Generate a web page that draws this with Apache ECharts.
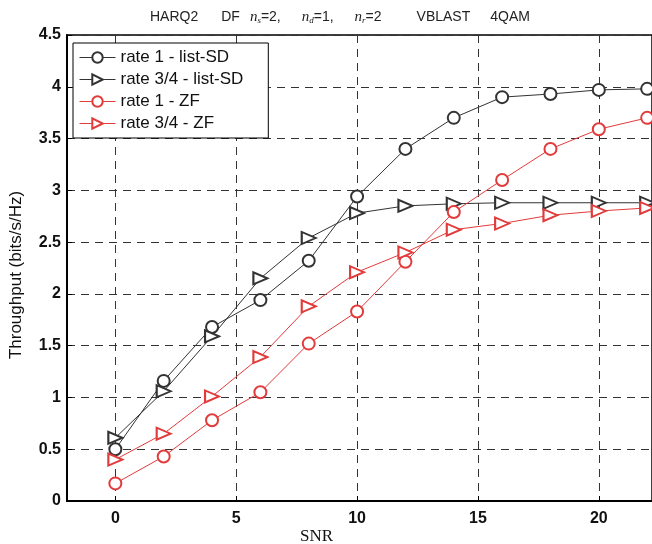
<!DOCTYPE html>
<html>
<head>
<meta charset="utf-8">
<script src="https://cdn.jsdelivr.net/npm/echarts@6/dist/echarts.min.js"></script>
<style>
  html, body { margin: 0; padding: 0; background: #fff; }
  #chart { width: 652px; height: 544px; }
</style>
</head>
<body>
<div id="chart"></div>
<script>
// SNR points shared by every curve
const snr = [0, 2, 4, 6, 8, 10, 12, 14, 16, 18, 20, 22];

// throughput
const rate1ListSD = [0.50, 1.16, 1.68, 1.94, 2.32, 2.94, 3.40, 3.70, 3.90, 3.93, 3.97, 3.98];
const rate34ListSD = [0.61, 1.06, 1.59, 2.15, 2.54, 2.78, 2.85, 2.87, 2.88, 2.88, 2.88, 2.88];
const rate1ZF = [0.17, 0.43, 0.78, 1.05, 1.52, 1.83, 2.31, 2.79, 3.10, 3.40, 3.59, 3.70];
const rate34ZF = [0.40, 0.65, 1.01, 1.39, 1.88, 2.21, 2.40, 2.62, 2.68, 2.76, 2.80, 2.83];

const xTicks = [0, 5, 10, 15, 20];

const BLACK = '#333';
const RED = '#e23b3b';
const SANS = 'Liberation Sans, Arial';

const chart = echarts.init(document.getElementById('chart'));

function pairs(vals) {
    return snr.map((x, i) => [x, vals[i]]);
}

function makeSeries(name, vals, color, symbol) {
    const tri = symbol === 'emptyTriangle';
    return {
        name: name,
        type: 'line',
        data: pairs(vals),
        symbol: symbol,
        symbolSize: tri ? [12, 14] : 12,
        symbolRotate: tri ? -90 : 0,
        showAllSymbol: true,
        lineStyle: { color: color, width: 1 },
        itemStyle: { color: color, borderColor: color, borderWidth: 1 },
        emphasis: { disabled: true },
        z: 3
    };
}

const tStyle = { fontFamily: SANS, fontSize: 14, fontWeight: 'normal', color: '#222', lineHeight: 16 };
const nStyle = { fontFamily: 'Liberation Serif', fontStyle: 'italic', fontWeight: 'normal', fontSize: 15, color: '#222', lineHeight: 16 };

const option = {
    backgroundColor: '#fff',
    animation: false,
    title: {
        text: '{t|HARQ2}{dF|DF}{n1|n}{s|s}{t|=2,}{n2|n}{s|d}{t|=1,}{n2|n}{s|r}{t|=2}{vb|VBLAST}{qa|4QAM}',
        left: 150,
        top: 9,
        padding: 0,
        textStyle: {
            fontWeight: 'normal',
            rich: {
                t: tStyle,
                dF: Object.assign({}, tStyle, { padding: [0, 0, 0, 23] }),
                vb: Object.assign({}, tStyle, { padding: [0, 0, 0, 35] }),
                qa: Object.assign({}, tStyle, { padding: [0, 0, 0, 20] }),
                n1: Object.assign({}, nStyle, { padding: [0, 0, 0, 10] }),
                n2: Object.assign({}, nStyle, { padding: [0, 0, 0, 21] }),
                s: { fontFamily: 'Liberation Serif', fontStyle: 'italic', fontWeight: 'normal', fontSize: 9, color: '#222', verticalAlign: 'bottom', lineHeight: 10, padding: [8, 0, 0, 0] }
            }
        }
    },
    legend: {
        orient: 'vertical',
        left: 73,
        top: 43,
        backgroundColor: '#fff',
        borderColor: '#000',
        borderWidth: 1,
        borderRadius: 0,
        padding: [6, 25, 6, 6],
        itemWidth: 36,
        itemHeight: 13,
        itemGap: 5,
        lineStyle: { width: 1 },
        textStyle: { fontFamily: SANS, fontSize: 17, color: '#111' },
        data: ['rate 1 - list-SD', 'rate 3/4 - list-SD', 'rate 1 - ZF', 'rate 3/4 - ZF']
    },
    grid: {
        left: 66,
        right: -2,
        top: 35,
        bottom: 43,
        show: true,
        borderColor: '#000',
        borderWidth: 1.5
    },
    xAxis: {
        type: 'value',
        min: -2,
        max: 22.2,
        axisLine: { onZero: false, lineStyle: { color: '#000', width: 2 } },
        axisTick: { inside: true, length: 5, customValues: xTicks, lineStyle: { color: '#000' } },
        axisLabel: {
            customValues: xTicks,
            margin: 10,
            fontFamily: SANS,
            fontSize: 16,
            fontWeight: 'bold',
            color: '#111'
        },
        splitLine: {
            show: true,
            lineStyle: { color: '#333', type: [8, 6], width: 1 }
        }
    },
    yAxis: {
        type: 'value',
        min: 0,
        max: 4.5,
        interval: 0.5,
        name: 'Throughput (bits/s/Hz)',
        nameLocation: 'middle',
        nameGap: 42,
        nameTextStyle: { fontFamily: SANS, fontSize: 17, color: '#111', padding: [0, 0, 0, -14] },
        axisLine: { show: true, onZero: false, lineStyle: { color: '#000', width: 2 } },
        axisTick: { show: true, inside: true, length: 5, lineStyle: { color: '#000' } },
        axisLabel: {
            margin: 6,
            fontFamily: SANS,
            fontSize: 16,
            fontWeight: 'bold',
            color: '#111'
        },
        splitLine: {
            show: true,
            lineStyle: { color: '#333', type: [8, 6], width: 1 }
        }
    },
    graphic: [{
        type: 'text',
        left: 300,
        top: 528,
        style: { text: 'SNR', font: '17px "Liberation Serif"', fill: '#111' }
    }],
    series: [
        makeSeries('rate 1 - list-SD', rate1ListSD, BLACK, 'emptyCircle'),
        makeSeries('rate 3/4 - list-SD', rate34ListSD, BLACK, 'emptyTriangle'),
        makeSeries('rate 1 - ZF', rate1ZF, RED, 'emptyCircle'),
        makeSeries('rate 3/4 - ZF', rate34ZF, RED, 'emptyTriangle')
    ]
};

chart.setOption(option);
</script>
</body>
</html>
